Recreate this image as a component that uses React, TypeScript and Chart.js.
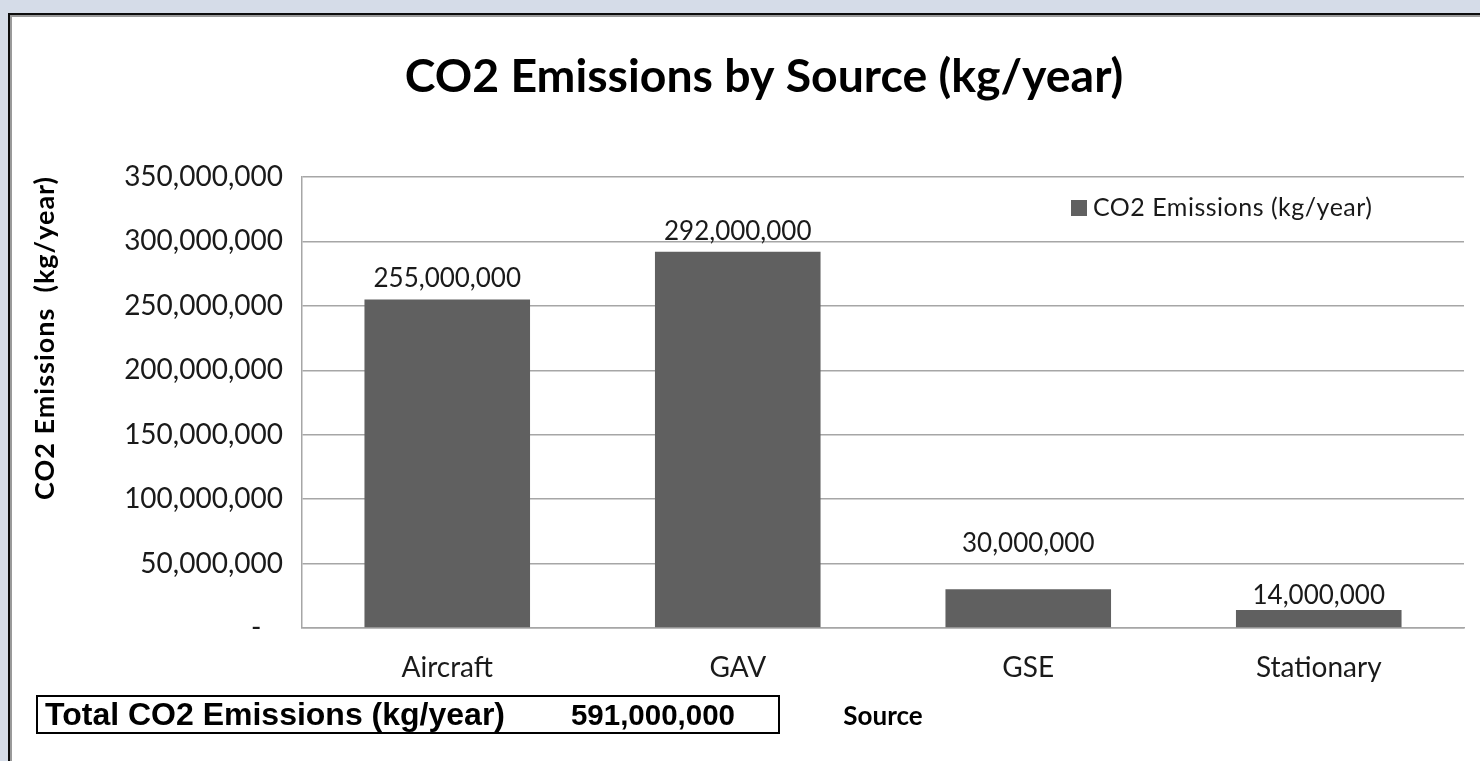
import { useEffect, useRef } from 'react';
import { Chart, registerables } from 'chart.js';

Chart.register(...registerables);

// Emission sources and their yearly CO2 output (kg/year)
const categories = ['Aircraft', 'GAV', 'GSE', 'Stationary'];
const emissions = [255000000, 292000000, 30000000, 14000000];

const seriesName = 'CO2 Emissions (kg/year)';
const chartTitle = 'CO2 Emissions by Source (kg/year)';
const yAxisTitle = 'CO2 Emissions  (kg/year)';
const xAxisTitle = 'Source';
const totalLabel = 'Total CO2 Emissions (kg/year)';

const yMin = 0;
const yMax = 350000000;
const yStep = 50000000;

// how far each value label sits above its bar (px)
const labelLift = [21, 20, 46, 14];

const BAR_COLOR = '#606060';
const TEXT_COLOR = '#1a1a1a';
const GRID_COLOR = '#a6a6a6';

const totalEmissions = emissions.reduce((a, b) => a + b, 0);
const fmt = (v: number) => v.toLocaleString('en-US');

const decorations = {
  id: 'decorations',
  afterDatasetsDraw(chart: any) {
    const { ctx } = chart;
    const meta = chart.getDatasetMeta(0);
    ctx.save();
    ctx.font = '26px Lato';
    ctx.fillStyle = TEXT_COLOR;
    ctx.textAlign = 'center';
    ctx.textBaseline = 'middle';
    meta.data.forEach((bar: any, i: number) => {
      ctx.fillText(fmt(emissions[i]), bar.x, bar.y - labelLift[i]);
    });
    ctx.restore();
  },
  afterDraw(chart: any) {
    const { ctx } = chart;
    ctx.save();
    ctx.fillStyle = '#000';

    // chart title
    ctx.font = 'bold 46.4px Lato';
    ctx.textAlign = 'center';
    ctx.textBaseline = 'alphabetic';
    ctx.fillText(chartTitle, 764, 92);

    // vertical axis title
    ctx.save();
    ctx.translate(54, 338);
    ctx.rotate(-Math.PI / 2);
    ctx.font = 'bold 27px Lato';
    ctx.letterSpacing = '1px';
    ctx.textAlign = 'center';
    ctx.fillText(yAxisTitle, 0, 0);
    ctx.restore();

    // horizontal axis title
    ctx.font = 'bold 26px Lato';
    ctx.textAlign = 'center';
    ctx.fillText(xAxisTitle, 883, 725);

    // legend
    ctx.fillStyle = BAR_COLOR;
    ctx.fillRect(1071, 200, 16, 16);
    ctx.fillStyle = TEXT_COLOR;
    ctx.save();
    ctx.font = '25px Lato';
    ctx.letterSpacing = '0.5px';
    ctx.textAlign = 'left';
    ctx.fillText(seriesName, 1093, 216);
    ctx.restore();

    // total box
    ctx.strokeStyle = '#000';
    ctx.lineWidth = 2;
    ctx.strokeRect(37, 696, 742, 37);
    ctx.fillStyle = '#000';
    ctx.font = 'bold 32px "Liberation Sans", Arial, sans-serif';
    ctx.textAlign = 'left';
    ctx.fillText(totalLabel, 45, 725);
    ctx.font = 'bold 29.5px "Liberation Sans", Arial, sans-serif';
    ctx.textAlign = 'right';
    ctx.fillText(fmt(totalEmissions), 735, 725);

    ctx.restore();
  },
};

export default function App() {
  const canvasRef = useRef<HTMLCanvasElement | null>(null);

  useEffect(() => {
    const canvas = canvasRef.current;
    if (!canvas) return;
    const chart = new Chart(canvas, {
      type: 'bar',
      data: {
        labels: categories,
        datasets: [
          {
            label: seriesName,
            data: emissions,
            backgroundColor: BAR_COLOR,
            barPercentage: 0.57,
            categoryPercentage: 1,
          },
        ],
      },
      options: {
        responsive: false,
        animation: false,
        devicePixelRatio: 1,
        layout: { padding: { top: 177, right: 16, left: 0, bottom: 0 } },
        plugins: {
          legend: { display: false },
          title: { display: false },
          tooltip: { enabled: false },
        },
        scales: {
          x: {
            grid: { display: false, drawTicks: false },
            border: { color: GRID_COLOR, width: 1.5 },
            ticks: {
              font: { family: 'Lato', size: 28 },
              color: TEXT_COLOR,
              padding: 23,
            },
            afterFit: (s: any) => {
              s.height = 133;
            },
          },
          y: {
            min: yMin,
            max: yMax,
            ticks: {
              stepSize: yStep,
              padding: 19,
              font: { family: 'Lato', size: 28 },
              color: TEXT_COLOR,
              callback: (v: any) => (Number(v) === 0 ? '-   ' : fmt(Number(v))),
            },
            grid: { color: GRID_COLOR, lineWidth: 1.5, drawTicks: false },
            border: { color: GRID_COLOR, width: 1.5 },
            afterFit: (s: any) => {
              s.width = 302;
            },
          },
        },
      } as any,
      plugins: [decorations],
    });

    if ((document as any).fonts) {
      Promise.all([
        document.fonts.load('28px Lato'),
        document.fonts.load('bold 28px Lato'),
        document.fonts.load('bold 31px "Liberation Sans"'),
      ]).then(() => chart.update());
    }

    return () => chart.destroy();
  }, []);

  return (
    <div style={{ position: 'fixed', inset: 0, background: '#d5dce8', overflow: 'hidden' }}>
      <div
        style={{
          position: 'absolute',
          left: 8,
          top: 13,
          width: 1520,
          height: 800,
          background: '#fff',
          borderLeft: '2px solid #0d0d0d',
          borderTop: '2px solid #0d0d0d',
          boxShadow: 'inset 2px 2px 0 #9a9a9a',
        }}
      />
      <canvas
        ref={canvasRef}
        width={1480}
        height={761}
        style={{ position: 'absolute', left: 0, top: 0, width: 1480, height: 761, display: 'block' }}
      />
    </div>
  );
}
